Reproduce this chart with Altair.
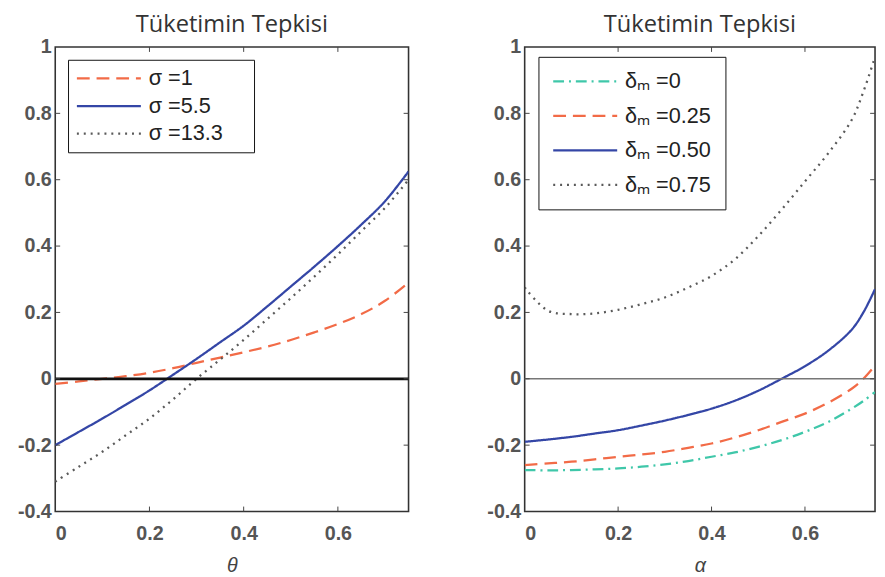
import altair as alt
import pandas as pd

# ---------------- data ----------------
theta = [0, 0.05, 0.1, 0.15, 0.2, 0.25, 0.3, 0.35, 0.4, 0.45, 0.5, 0.55, 0.6, 0.65, 0.7, 0.75]
sigma_1 = [-0.015, -0.008, 0.0, 0.008, 0.018, 0.032, 0.048, 0.064, 0.08, 0.097, 0.117, 0.14, 0.165, 0.195, 0.235, 0.29]
sigma_5_5 = [-0.2, -0.16, -0.12, -0.078, -0.035, 0.012, 0.06, 0.11, 0.16, 0.218, 0.278, 0.338, 0.40, 0.465, 0.535, 0.625]
sigma_13_3 = [-0.31, -0.265, -0.22, -0.17, -0.12, -0.062, 0.0, 0.058, 0.117, 0.18, 0.243, 0.308, 0.375, 0.445, 0.515, 0.6]

alpha = [0, 0.05, 0.1, 0.15, 0.2, 0.25, 0.3, 0.35, 0.4, 0.45, 0.5, 0.55, 0.6, 0.65, 0.7, 0.725, 0.75]
delta_0 = [-0.275, -0.276, -0.275, -0.273, -0.27, -0.265, -0.258, -0.248, -0.235, -0.222, -0.205, -0.185, -0.16, -0.13, -0.09, -0.067, -0.04]
delta_025 = [-0.26, -0.255, -0.25, -0.243, -0.235, -0.228, -0.22, -0.208, -0.195, -0.177, -0.155, -0.13, -0.105, -0.072, -0.03, 0.0, 0.04]
delta_050 = [-0.19, -0.183, -0.175, -0.165, -0.155, -0.141, -0.126, -0.109, -0.09, -0.066, -0.036, 0.0, 0.038, 0.085, 0.148, 0.2, 0.27]
delta_075 = [0.275, 0.205, 0.195, 0.197, 0.208, 0.225, 0.245, 0.275, 0.31, 0.36, 0.43, 0.51, 0.595, 0.68, 0.78, 0.865, 0.97]

left_labels = ["σ =1", "σ =5.5", "σ =13.3"]
right_labels = ["δₘ =0", "δₘ =0.25", "δₘ =0.50", "δₘ =0.75"]

panel_title = "Tüketimin Tepkisi"
x_titles = ["θ", "α"]

x_label_values = [0, 0.2, 0.4, 0.6]
y_label_values = [-0.4, -0.2, 0, 0.2, 0.4, 0.6, 0.8, 1]
x_inner_ticks = [0.2, 0.4, 0.6]
y_inner_ticks = [-0.2, 0, 0.2, 0.4, 0.6, 0.8]
zero_line = [0]

# ---------------- styles ----------------
ORANGE = "#f26b47"
BLUE = "#3446a6"
GRAY = "#5a5a5a"
TEAL = "#3fc7a9"

DASH = [13, 7]
SOLID = [1, 0]
DOT = [2, 5]
DASHDOT = [11, 5, 2, 5]

H = 472

left_df = pd.concat([
    pd.DataFrame({"x": theta, "y": sigma_1, "series": left_labels[0]}),
    pd.DataFrame({"x": theta, "y": sigma_5_5, "series": left_labels[1]}),
    pd.DataFrame({"x": theta, "y": sigma_13_3, "series": left_labels[2]}),
])
right_df = pd.concat([
    pd.DataFrame({"x": alpha, "y": delta_0, "series": right_labels[0]}),
    pd.DataFrame({"x": alpha, "y": delta_025, "series": right_labels[1]}),
    pd.DataFrame({"x": alpha, "y": delta_050, "series": right_labels[2]}),
    pd.DataFrame({"x": alpha, "y": delta_075, "series": right_labels[3]}),
])

xscale = alt.Scale(domain=[0, 0.75], nice=False, zero=False)
yscale = alt.Scale(domain=[-0.4, 1], nice=False, zero=False)


def panel(df, labels, colors, dashes, xtitle, W, zero_color, zero_width, legend):
    x_axis = alt.Axis(values=x_label_values, title=xtitle, labelExpr="'' + datum.value")
    y_axis = alt.Axis(values=y_label_values, title=None, labelExpr="'' + datum.value")
    X = lambda: alt.X("x:Q", scale=xscale, axis=x_axis)
    Y = lambda: alt.Y("y:Q", scale=yscale, axis=y_axis)
    lines = alt.Chart(df).mark_line(strokeWidth=2.3, interpolate="catmull-rom", clip=True).encode(
        x=X(), y=Y(),
        color=alt.Color("series:N", scale=alt.Scale(domain=labels, range=colors), legend=legend),
        strokeDash=alt.StrokeDash("series:N", scale=alt.Scale(domain=labels, range=dashes), legend=legend),
        detail="series:N",
    )
    zero = alt.Chart(pd.DataFrame({"y": zero_line})).mark_rule(
        color=zero_color, strokeWidth=zero_width).encode(y=Y())
    xt = pd.DataFrame({"x": x_inner_ticks})
    yt = pd.DataFrame({"y": y_inner_ticks})
    tick_style = dict(color="#444", strokeWidth=1)
    t_bottom = alt.Chart(xt).mark_rule(**tick_style).encode(
        x=X(), y=alt.value(H), y2=alt.value(H - 5))
    t_top = alt.Chart(xt).mark_rule(**tick_style).encode(
        x=X(), y=alt.value(0), y2=alt.value(5))
    t_left = alt.Chart(yt).mark_rule(**tick_style).encode(
        y=Y(), x=alt.value(0), x2=alt.value(5))
    t_right = alt.Chart(yt).mark_rule(**tick_style).encode(
        y=Y(), x=alt.value(W), x2=alt.value(W - 5))
    return alt.layer(lines, zero, t_bottom, t_top, t_left, t_right).properties(
        width=W, height=H,
        title=alt.TitleParams(panel_title, fontSize=24, font="Open Sans", fontWeight="normal",
                              color="#333", offset=0, anchor="middle"),
    )


legend_common = dict(
    orient="none", symbolType="M-2,0H11", symbolSize=100, symbolStrokeWidth=2.3,
    labelFont="Liberation Sans", labelColor="#222", strokeColor="#111", fillColor="white",
    labelLimit=300, labelFontSize=22, labelOffset=52,
)

# the left legend box is wider than its labels: a blank (white) title on the right pads it
left_legend = alt.Legend(legendX=13, legendY=13, padding=8, rowPadding=6,
                         title="σ", titleOrient="right", titleColor="white", titleFontSize=22,
                         titlePadding=8, **legend_common)
right_legend = alt.Legend(legendX=14, legendY=10, padding=14, rowPadding=13, title=None,
                          **legend_common)

left = panel(left_df, left_labels, [ORANGE, BLUE, GRAY], [DASH, SOLID, DOT], x_titles[0], 359,
             "#111", 2.8, left_legend)
right = panel(right_df, right_labels, [TEAL, ORANGE, BLUE, GRAY], [DASHDOT, DASH, SOLID, DOT],
              x_titles[1], 356, "#777", 1.6, right_legend)

chart = alt.hconcat(left, right, spacing=75).resolve_scale(
    color="independent", strokeDash="independent"
).properties(
    padding={"left": 8, "top": 0, "right": 0, "bottom": 0}
).configure_view(
    stroke="#333", strokeWidth=1.6
).configure_axis(
    domain=False, ticks=False, grid=False,
    labelFont="Liberation Sans", labelFontSize=20, labelFontWeight="bold", labelColor="#555",
    titleFont="Liberation Sans", titleFontSize=20, titleFontStyle="italic", titleFontWeight="normal",
    titleColor="#444", titlePadding=13,
).configure_axisX(labelPadding=12).configure_axisY(labelPadding=4)

chart.save("out.html", embed_options={"renderer": "svg", "actions": False})
